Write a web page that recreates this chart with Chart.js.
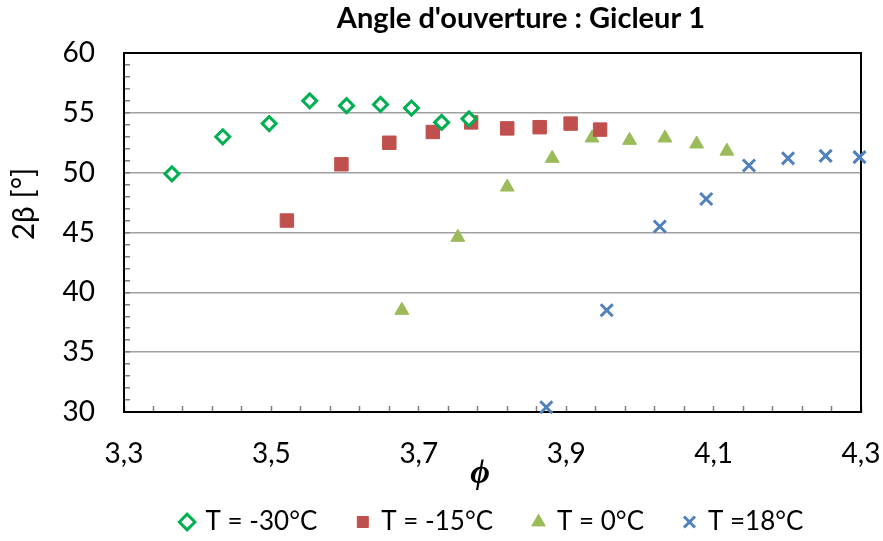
<!DOCTYPE html>
<html>
<head>
<meta charset="utf-8">
<script src="https://cdn.jsdelivr.net/npm/chart.js@4.4.1/dist/chart.umd.min.js"></script>
<style>
  html, body { margin: 0; padding: 0; background: #fff; }
</style>
</head>
<body>
<canvas id="angleChart" width="883" height="541"></canvas>
<script>
// phi (x) and 2beta (y) per injection temperature
const phiM30 = [3.365, 3.434, 3.497, 3.552, 3.602, 3.648, 3.690, 3.731, 3.768];
const betaM30 = [49.9, 53.0, 54.1, 56.0, 55.6, 55.7, 55.4, 54.2, 54.5];
const phiM15 = [3.521, 3.595, 3.660, 3.719, 3.771, 3.820, 3.864, 3.906, 3.946];
const betaM15 = [46.0, 50.7, 52.5, 53.4, 54.2, 53.7, 53.8, 54.1, 53.6];
const phi0 = [3.677, 3.753, 3.820, 3.881, 3.935, 3.986, 4.034, 4.077, 4.118];
const beta0 = [38.5, 44.6, 48.8, 51.2, 52.9, 52.7, 52.9, 52.4, 51.8];
const phi18 = [3.873, 3.955, 4.027, 4.090, 4.148, 4.201, 4.252, 4.298];
const beta18 = [30.4, 38.5, 45.5, 47.8, 50.6, 51.2, 51.4, 51.3];

const seriesNames = ['T = -30°C', 'T = -15°C', 'T = 0°C', 'T =18°C'];
const xTickLabels = [3.3, 3.5, 3.7, 3.9, 4.1, 4.3];
const yTickLabels = [30, 35, 40, 45, 50, 55, 60];

const chartTitle = "Angle d'ouverture : Gicleur 1";
const xTitle = 'ϕ';
const yTitle = '2β [°]';

const toPoints = (xs, ys) => xs.map((x, i) => ({ x: x, y: ys[i] }));

Chart.defaults.font.family = 'Lato, "Noto Sans", sans-serif';
Chart.defaults.color = '#000';

// frame around the plot + titles drawn on the canvas
const decorations = {
  id: 'decorations',
  beforeDatasetsDraw(chart) {
    const { ctx, chartArea: a } = chart;
    ctx.save();
    ctx.strokeStyle = '#000';
    ctx.lineWidth = 2;
    ctx.strokeRect(a.left, a.top, a.right - a.left, a.bottom - a.top);
    ctx.restore();
  },
  afterDraw(chart) {
    const ctx = chart.ctx;
    ctx.save();
    ctx.fillStyle = '#000';
    ctx.textAlign = 'center';
    ctx.textBaseline = 'alphabetic';
    ctx.font = 'bold 29px Lato, "Noto Sans", sans-serif';
    ctx.fillText(chartTitle, 521, 28);

    ctx.textBaseline = 'middle';
    ctx.font = 'bold italic 34px "Liberation Serif", "DejaVu Serif", serif';
    ctx.fillText(xTitle, 480, 474);

    ctx.textBaseline = 'alphabetic';
    ctx.translate(34, 204);
    ctx.rotate(-Math.PI / 2);
    ctx.font = '30px Lato, "Noto Sans", sans-serif';
    ctx.fillText(yTitle, 0, 0);
    ctx.restore();
  }
};

const legendPad = 40;

new Chart(document.getElementById('angleChart'), {
  type: 'scatter',
  data: {
    datasets: [
      {
        label: seriesNames[0],
        data: toPoints(phiM30, betaM30),
        pointStyle: 'rectRot',
        pointRadius: 7,
        pointBorderWidth: 3,
        borderWidth: 3,
        borderColor: '#00b050',
        backgroundColor: '#ffffff',
        clip: false
      },
      {
        label: seriesNames[1],
        data: toPoints(phiM15, betaM15),
        pointStyle: 'rect',
        pointRadius: 9.5,
        pointBorderWidth: 1,
        borderWidth: 1,
        borderColor: '#c0504d',
        backgroundColor: '#c0504d',
        clip: false
      },
      {
        label: seriesNames[2],
        data: toPoints(phi0, beta0),
        pointStyle: 'triangle',
        pointRadius: 8,
        pointBorderWidth: 1,
        borderWidth: 1,
        borderColor: '#9bbb59',
        backgroundColor: '#9bbb59',
        clip: false
      },
      {
        label: seriesNames[3],
        data: toPoints(phi18, beta18),
        pointStyle: 'crossRot',
        pointRadius: 8.5,
        pointBorderWidth: 3,
        borderWidth: 3,
        borderColor: '#4f81bd',
        backgroundColor: '#4f81bd',
        clip: false
      }
    ]
  },
  options: {
    responsive: false,
    animation: false,
    layout: { padding: { top: 53, right: 22, left: 0, bottom: 0 } },
    scales: {
      x: {
        type: 'linear',
        position: 'bottom',
        min: 3.3,
        max: 4.3,
        afterFit: (scale) => {
          scale.height = 97 - legendPad;
          scale.paddingLeft = 0;
          scale.paddingRight = 0;
        },
        ticks: {
          stepSize: 0.04,
          autoSkip: false,
          maxRotation: 0,
          padding: 31,
          font: { size: 28 },
          callback: (v) => {
            const hit = xTickLabels.find((t) => Math.abs(t - v) < 1e-6);
            return hit === undefined ? '' : hit.toFixed(1).replace('.', ',');
          }
        },
        grid: {
          drawOnChartArea: false,
          drawTicks: true,
          tickLength: -6,
          tickColor: '#7f7f7f',
          tickWidth: 1.5
        },
        border: { color: '#000', width: 2 }
      },
      y: {
        min: 30,
        max: 60,
        afterFit: (scale) => { scale.width = 124; },
        ticks: {
          stepSize: 1,
          autoSkip: false,
          padding: 35,
          font: { size: 28 },
          callback: (v) => (yTickLabels.includes(v) ? String(v) : '')
        },
        grid: {
          color: (c) => {
            const v = c.tick && c.tick.value;
            return v % 5 === 0 && v > 30 && v < 60 ? '#a0a0a0' : 'rgba(0,0,0,0)';
          },
          lineWidth: 1.5,
          drawTicks: true,
          tickLength: -6,
          tickColor: '#7f7f7f',
          tickWidth: 1.5
        },
        border: { color: '#000', width: 2 }
      }
    },
    plugins: {
      title: { display: false },
      tooltip: { enabled: false },
      legend: {
        position: 'bottom',
        fullSize: false,
        maxHeight: legendPad + 32,
        labels: {
          usePointStyle: true,
          boxWidth: 11,
          boxHeight: 11,
          padding: legendPad,
          font: { size: 26 },
          color: '#000'
        }
      }
    }
  },
  plugins: [decorations]
});
</script>
</body>
</html>
